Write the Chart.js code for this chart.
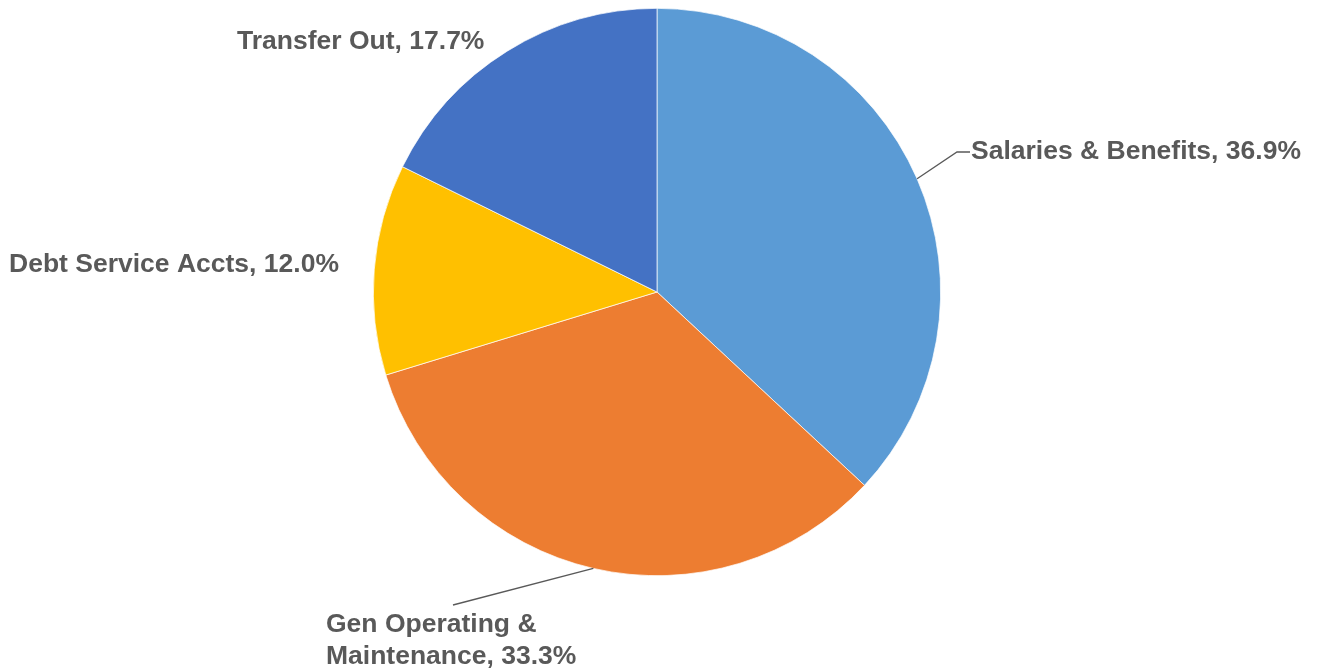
<!DOCTYPE html>
<html>
<head>
<meta charset="utf-8">
<script src="https://cdn.jsdelivr.net/npm/chart.js@4/dist/chart.umd.min.js"></script>
<style>
  html, body { margin: 0; padding: 0; background: #fff; }
  #wrap { width: 1317px; height: 670px; }
</style>
</head>
<body>
<div id="wrap"><canvas id="grafico"></canvas></div>
<script>
// dados do gráfico
const categorias = ['Salaries & Benefits', 'Gen Operating & Maintenance', 'Debt Service Accts', 'Transfer Out'];
const valores = [36.9, 33.3, 12.0, 17.7];
const cores = ['#5B9BD5', '#ED7D31', '#FFC000', '#4472C4'];

// linhas de texto de cada rótulo
const rotulos = [
    ['Salaries & Benefits, 36.9%'],
    ['Gen Operating &', 'Maintenance, 33.3%'],
    ['Debt Service Accts, 12.0%'],
    ['Transfer Out, 17.7%']
];

// posição dos rótulos (canto esquerdo, linha de base da 1a linha) e pontos da linha guia
const posRotulos = [
    { x: 971, y: 159, guia: [[957, 152], [970, 152]] },
    { x: 326, y: 632, guia: [[453, 605]] },
    { x: 9, y: 272, guia: null },
    { x: 237, y: 49, guia: null }
];

const pluginRotulos = {
    id: 'rotulos',
    afterDatasetsDraw(chart) {
        const ctx = chart.ctx;
        const arcos = chart.getDatasetMeta(0).data;
        ctx.save();
        arcos.forEach((arco, i) => {
            const p = posRotulos[i];
            if (p.guia) {
                // começa no meio da borda externa da fatia
                const meio = (arco.startAngle + arco.endAngle) / 2;
                const x0 = arco.x + Math.cos(meio) * arco.outerRadius;
                const y0 = arco.y + Math.sin(meio) * arco.outerRadius;
                ctx.strokeStyle = '#595959';
                ctx.lineWidth = 1.3;
                ctx.beginPath();
                ctx.moveTo(x0, y0);
                p.guia.forEach(pt => ctx.lineTo(pt[0], pt[1]));
                ctx.stroke();
            }
            ctx.fillStyle = '#595959';
            ctx.font = 'bold 26.5px "Liberation Sans", Arial, sans-serif';
            ctx.textAlign = 'left';
            ctx.textBaseline = 'alphabetic';
            rotulos[i].forEach((linha, j) => {
                ctx.fillText(linha, p.x, p.y + j * 32);
            });
        });
        ctx.restore();
    }
};

new Chart(document.getElementById('grafico'), {
    type: 'pie',
    data: {
        labels: categorias,
        datasets: [{
            data: valores,
            backgroundColor: cores,
            borderColor: '#ffffff',
            borderWidth: 0.7
        }]
    },
    options: {
        responsive: true,
        maintainAspectRatio: false,
        animation: false,
        layout: { padding: { top: 8, bottom: 94, left: 0, right: 3 } },
        plugins: {
            legend: { display: false },
            tooltip: { enabled: false }
        }
    },
    plugins: [pluginRotulos]
});
</script>
</body>
</html>
